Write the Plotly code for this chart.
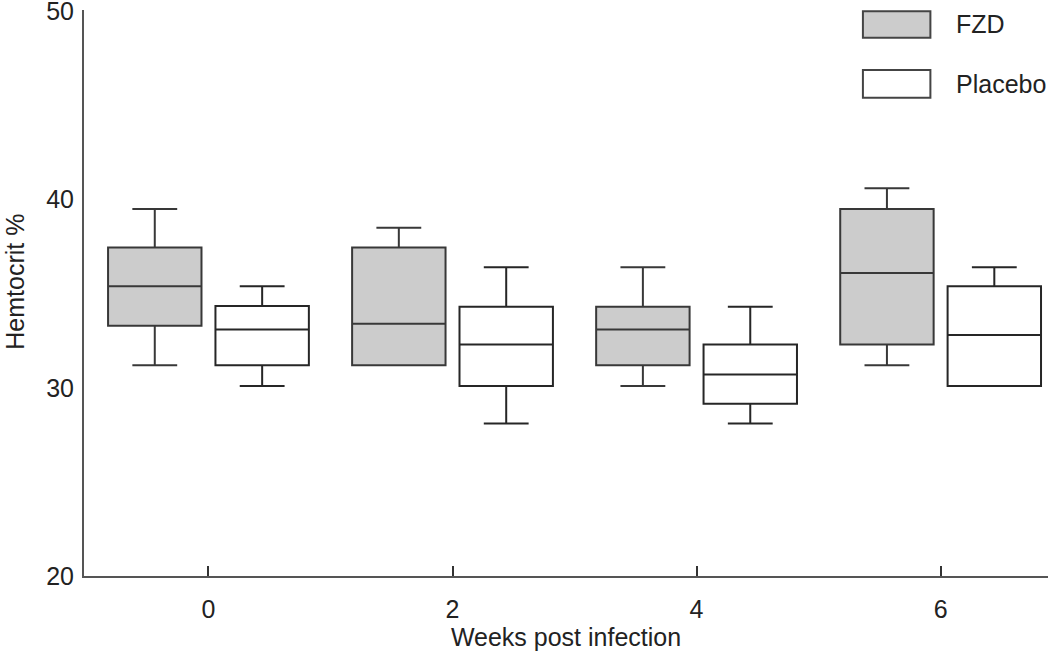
import plotly.graph_objects as go

weeks = ["0", "2", "4", "6"]

fzd_lower = [31.2, 31.2, 30.1, 31.2]
fzd_q1 = [33.3, 31.2, 31.2, 32.3]
fzd_median = [35.4, 33.4, 33.1, 36.1]
fzd_q3 = [37.45, 37.45, 34.3, 39.5]
fzd_upper = [39.5, 38.5, 36.4, 40.6]

pla_lower = [30.1, 28.1, 28.1, 30.1]
pla_q1 = [31.2, 30.1, 29.15, 30.1]
pla_median = [33.1, 32.3, 30.7, 32.8]
pla_q3 = [34.35, 34.3, 32.3, 35.4]
pla_upper = [35.4, 36.4, 34.3, 36.4]

FONT = "Liberation Sans, Arial, sans-serif"
FS = 25

fig = go.Figure()
fig.add_trace(go.Box(
    name="FZD", x=weeks, q1=fzd_q1, median=fzd_median, q3=fzd_q3,
    lowerfence=fzd_lower, upperfence=fzd_upper,
    fillcolor="#cccccc", line=dict(color="#383838", width=2),
    whiskerwidth=0.48, boxpoints=False, showlegend=False,
))
fig.add_trace(go.Box(
    name="Placebo", x=weeks, q1=pla_q1, median=pla_median, q3=pla_q3,
    lowerfence=pla_lower, upperfence=pla_upper,
    fillcolor="#ffffff", line=dict(color="#262626", width=2),
    whiskerwidth=0.48, boxpoints=False, showlegend=False,
))

# plot area in pixels: x 84..1048, y 10..576
legend_items = [("FZD", "#cccccc", 0.998, 0.951), ("Placebo", "#ffffff", 0.894, 0.845)]
shapes = []
annotations = []
for label, col, y1, y0 in legend_items:
    shapes.append(dict(type="rect", xref="paper", yref="paper",
                       x0=0.808, x1=0.878, y0=y0, y1=y1,
                       fillcolor=col, line=dict(color="#444444", width=2)))
    annotations.append(dict(text=label, xref="paper", yref="paper",
                            x=0.903, y=(y0 + y1) / 2, xanchor="left", yanchor="middle",
                            showarrow=False, font=dict(family=FONT, size=FS, color="#222222")))

annotations.append(dict(text="Hemtocrit %", xref="paper", yref="paper",
                        x=-0.0715, y=0.52, xanchor="center", yanchor="middle",
                        textangle=-90, showarrow=False,
                        font=dict(family=FONT, size=FS, color="#222222")))

fig.update_layout(
    width=1050, height=656,
    margin=dict(l=84, r=2, t=10, b=80, autoexpand=False),
    paper_bgcolor="white", plot_bgcolor="white",
    boxmode="group", boxgap=0.12, boxgroupgap=0.13,
    font=dict(family=FONT, size=FS, color="#222222"),
    shapes=shapes, annotations=annotations,
)
fig.update_xaxes(
    type="category", range=[-0.51, 3.44], automargin=False,
    showline=True, linecolor="#555555", linewidth=2,
    ticks="inside", ticklen=10, tickwidth=1.5, tickcolor="#333333",
    ticklabelstandoff=10, ticklabeloverflow="allow",
    showgrid=False, zeroline=False,
    title=dict(text="Weeks post infection", standoff=5, font=dict(size=FS)),
)
fig.update_yaxes(
    range=[20, 50.07], tickvals=[20, 30, 40, 50], automargin=False,
    showline=True, linecolor="#555555", linewidth=2,
    ticks="", ticklabelstandoff=3, ticklabeloverflow="allow",
    showgrid=False, zeroline=False,
)

fig.write_html("out.html", config={"displayModeBar": False},
               post_script="document.body.style.margin='0';")
